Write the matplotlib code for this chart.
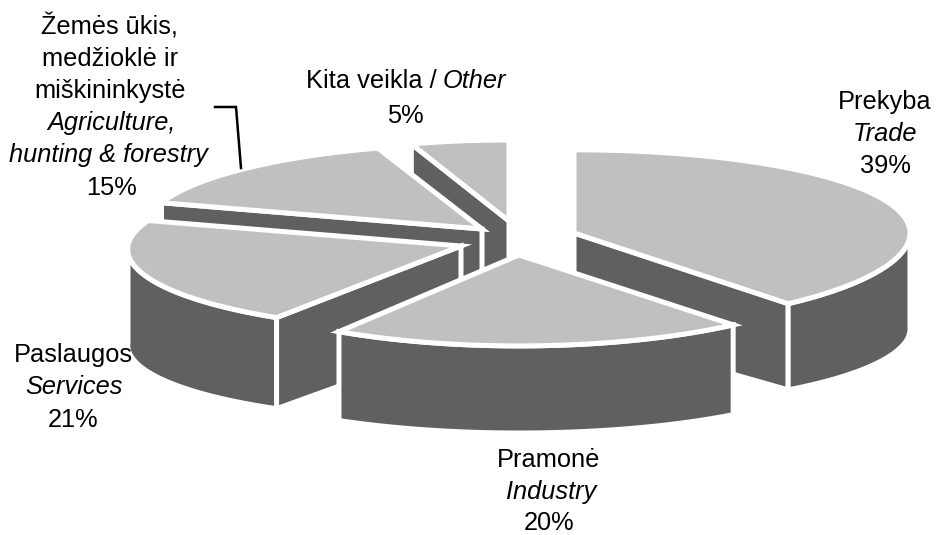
import numpy as np
import matplotlib
matplotlib.use("Agg")
import matplotlib.pyplot as plt
from matplotlib.patches import Polygon

plt.rcParams['font.family'] = ['Liberation Sans', 'DejaVu Sans']

# data: shares in percent, clockwise from 12 o'clock
categories = ["Prekyba", "Pramonė", "Paslaugos", "Žemės ūkis", "Kita veikla"]
shares = [39, 20, 21, 15, 5]

# exploded slice layout: cx, cy, rx, ry, kx, ky, drop, bottom ry, visible radial face
layout = {
    "Prekyba":    (574, 233, 336, 88, 0.0, 0.055, 96, 79, "end"),
    "Pramonė":    (519, 255, 336, 90, 0.0, 0.01, 98, 80, None),
    "Paslaugos":  (461, 246, 333, 83, 0.04, 0.025, 96, 79, "start"),
    "Žemės ūkis": (482, 229, 337, 85, 0.0, 0.0, 96, 79, "start"),
    "Kita veikla":(509, 221, 316, 81, 0.0, 0.0, 96, 79, "start"),
}
draw_order = ["Kita veikla", "Žemės ūkis", "Paslaugos", "Prekyba", "Pramonė"]
LIGHT, DARK = "#C0C0C0", "#606060"
DPI = 100
STROKE = 5 * 72 / DPI

fig = plt.figure(figsize=(9.36, 5.35), dpi=DPI)
ax = fig.add_axes([0, 0, 1, 1])
ax.set_xlim(0, 936)
ax.set_ylim(535, 0)
ax.axis("off")


def top_rim(th, p):
    cx, cy, rx, ry, kx, ky = p[:6]
    s, c = np.sin(th), np.cos(th)
    return np.c_[cx + rx * (1 - kx * s) * c, cy - ry * (1 - ky * s) * s]


def low_rim(th, p):
    cx, cy, rx, ry, kx, ky, drop, bry = p[:8]
    s, c = np.sin(th), np.cos(th)
    return np.c_[cx + rx * (1 - kx * s) * c, cy + drop - bry * s]


def poly(pts, color, z):
    ax.add_patch(Polygon(pts, closed=True, facecolor=color, edgecolor="white",
                         linewidth=STROKE, joinstyle="miter", zorder=z))


bounds = np.cumsum([0] + shares) / 100.0
z = 1
for name in draw_order:
    i = categories.index(name)
    p = layout[name]
    a0 = np.pi / 2 - 2 * np.pi * bounds[i]
    a1 = np.pi / 2 - 2 * np.pi * bounds[i + 1]
    apex = np.array([p[0], p[1]])
    apex_low = np.array([p[0], p[1] + p[6]])
    # the one radial face that can be seen
    if p[8] is not None:
        a = a0 if p[8] == "start" else a1
        t = top_rim(np.array([a]), p)[0]
        b = low_rim(np.array([a]), p)[0]
        poly([apex, t, b, apex_low], DARK, z)
        z += 1
    # outer wall (front part only)
    lo, hi = max(a1, -np.pi), min(a0, 0)
    if lo < hi:
        th = np.linspace(hi, lo, 80)
        poly(np.vstack([top_rim(th, p), low_rim(th[::-1], p)]), DARK, z)
        z += 1
    th = np.linspace(a0, a1, 120)
    poly(np.vstack([apex, top_rim(th, p)]), LIGHT, z)
    z += 1

# leader line
ax.plot([215, 236, 241], [107, 107, 168], color="black", lw=2.5 * 72 / DPI,
        solid_joinstyle="miter", zorder=z)

FS = 18.3
labels = [
    ("Žemės ūkis,", 109, 34, "normal"),
    ("medžioklė ir", 110, 66, "normal"),
    ("miškininkystė", 110, 98, "normal"),
    ("Agriculture,", 111, 130, "italic"),
    ("hunting & forestry", 108, 162, "italic"),
    ("15%", 111, 195, "normal"),
    ("5%", 405, 123, "normal"),
    ("Prekyba", 885, 109, "normal"),
    ("Trade", 885, 141, "italic"),
    ("39%", 885, 173, "normal"),
    ("Pramonė", 549, 467, "normal"),
    ("Industry", 551, 499, "italic"),
    ("20%", 549, 529.5, "normal"),
    ("Paslaugos", 73, 362, "normal"),
    ("Services", 74, 394, "italic"),
    ("21%", 73, 427, "normal"),
]
for txt, x, y, style in labels:
    ax.text(x, y, txt, ha="center", va="baseline", fontsize=FS, style=style, color="black", zorder=z + 1)
ax.text(437, 88, "Kita veikla /", ha="right", va="baseline", fontsize=FS, color="black", zorder=z + 1)
ax.text(443, 88, "Other", ha="left", va="baseline", fontsize=FS, style="italic", color="black", zorder=z + 1)

fig.savefig("out.png", dpi=DPI, facecolor="white")
